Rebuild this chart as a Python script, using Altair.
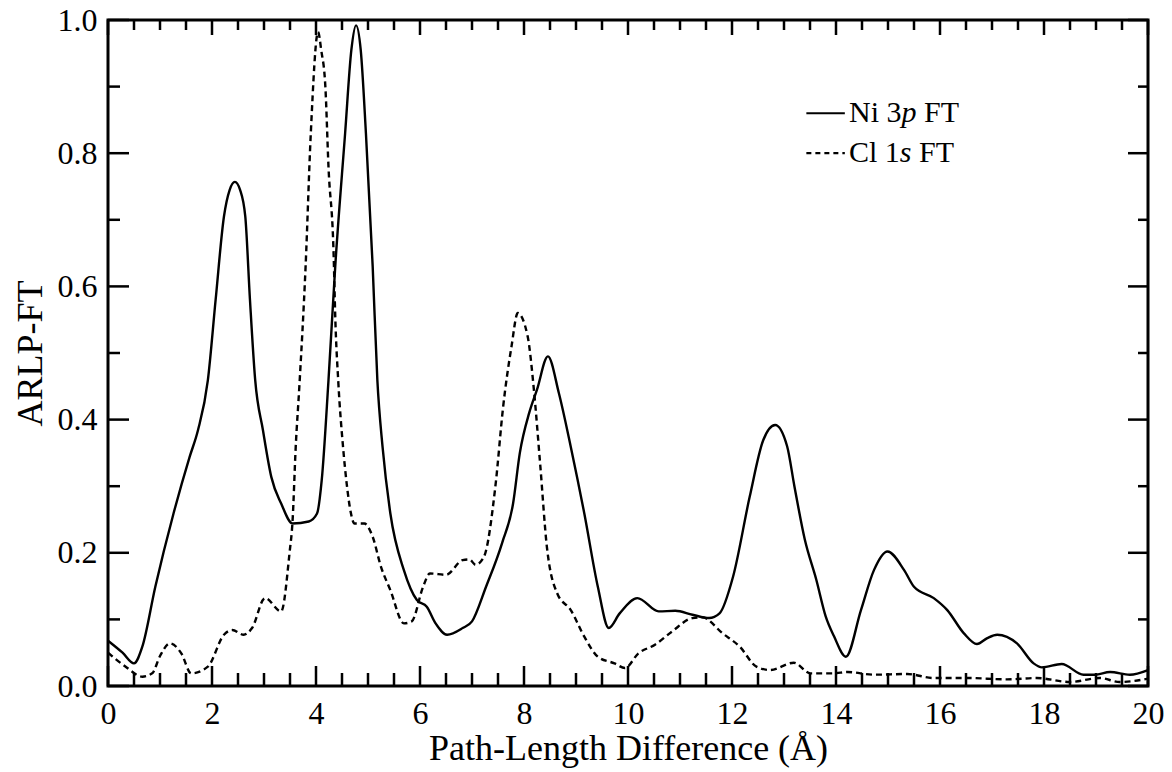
import altair as alt
import pandas as pd

# ---- data ----
ni_x = [0.0, 0.28, 0.5, 0.66, 0.91, 1.26, 1.57, 1.73, 1.92, 2.07, 2.23, 2.34, 2.44, 2.54, 2.64, 2.73,
        2.83, 2.98, 3.14, 3.33, 3.55, 3.86, 4.02, 4.11, 4.24, 4.37, 4.56, 4.68, 4.77, 4.86, 4.96,
        5.09, 5.18, 5.28, 5.43, 5.69, 5.94, 6.13, 6.3, 6.52, 6.82, 7.0, 7.27, 7.58, 7.79, 7.92,
        8.1, 8.25, 8.46, 8.67, 8.9, 9.16, 9.42, 9.63, 9.84, 10.18, 10.59, 10.91, 11.24, 11.56,
        11.76, 12.02, 12.34, 12.6, 12.83, 13.06, 13.2, 13.4, 13.62, 13.8, 13.96, 14.19, 14.48,
        14.73, 14.99, 15.31, 15.5, 15.88, 16.14, 16.46, 16.71, 16.91, 17.1, 17.48, 17.8, 17.96,
        18.34, 18.76, 18.98, 19.27, 19.65, 20.0]
ni_y = [0.068, 0.05, 0.034, 0.059, 0.149, 0.259, 0.344, 0.384, 0.459, 0.58, 0.705, 0.745, 0.757,
        0.745, 0.705, 0.58, 0.46, 0.384, 0.314, 0.274, 0.244, 0.247, 0.259, 0.309, 0.459, 0.63,
        0.83, 0.955, 0.992, 0.955, 0.83, 0.63, 0.459, 0.359, 0.259, 0.174, 0.129, 0.119, 0.094,
        0.077, 0.087, 0.097, 0.149, 0.215, 0.274, 0.35, 0.41, 0.445, 0.495, 0.44, 0.359, 0.259,
        0.149, 0.087, 0.109, 0.132, 0.112, 0.113, 0.107, 0.102, 0.109, 0.164, 0.284, 0.369,
        0.392, 0.36, 0.3, 0.22, 0.16, 0.105, 0.075, 0.044, 0.114, 0.174, 0.202, 0.174, 0.149,
        0.132, 0.114, 0.079, 0.063, 0.072, 0.077, 0.064, 0.034, 0.028, 0.033, 0.017, 0.017,
        0.021, 0.017, 0.024]

cl_x = [0.0, 0.34, 0.66, 0.85, 1.0, 1.19, 1.41, 1.6, 1.92, 2.23, 2.39, 2.61, 2.77, 3.02, 3.33,
        3.49, 3.55, 3.61, 3.68, 3.8, 3.9, 4.04, 4.1, 4.18, 4.24, 4.34, 4.37, 4.43, 4.52, 4.59,
        4.67, 4.74, 4.93, 5.09, 5.25, 5.43, 5.69, 5.84, 6.06, 6.19, 6.5, 6.82, 6.95, 7.07, 7.23,
        7.45, 7.6, 7.76, 7.88, 8.07, 8.19, 8.31, 8.44, 8.64, 8.9, 9.16, 9.42, 9.74, 9.94, 10.2,
        10.52, 10.85, 11.24, 11.43, 11.82, 12.15, 12.47, 12.73, 13.19, 13.51, 13.96, 14.22,
        14.73, 15.37, 15.88, 16.52, 17.29, 17.86, 18.5, 19.07, 19.46, 20.0]
cl_y = [0.05, 0.029, 0.014, 0.019, 0.045, 0.064, 0.049, 0.019, 0.029, 0.077, 0.084, 0.077, 0.087,
        0.132, 0.112, 0.199, 0.249, 0.359, 0.45, 0.63, 0.83, 0.982, 0.955, 0.9, 0.78, 0.645,
        0.555, 0.455, 0.359, 0.304, 0.26, 0.244, 0.244, 0.224, 0.179, 0.144, 0.094, 0.097, 0.149,
        0.169, 0.167, 0.189, 0.19, 0.182, 0.194, 0.3, 0.42, 0.51, 0.56, 0.525, 0.445, 0.334,
        0.209, 0.139, 0.114, 0.074, 0.044, 0.034, 0.027, 0.049, 0.062, 0.082, 0.102, 0.103,
        0.079, 0.059, 0.029, 0.024, 0.035, 0.019, 0.019, 0.021, 0.017, 0.018, 0.012, 0.012,
        0.01, 0.012, 0.006, 0.012, 0.006, 0.011]

x_labels = [0, 2, 4, 6, 8, 10, 12, 14, 16, 18, 20]
y_labels = [0.0, 0.2, 0.4, 0.6, 0.8, 1.0]
x_minor = [0.5, 1, 1.5, 2.5, 3, 3.5, 4.5, 5, 5.5, 6.5, 7, 7.5, 8.5, 9, 9.5, 10.5, 11, 11.5,
           12.5, 13, 13.5, 14.5, 15, 15.5, 16.5, 17, 17.5, 18.5, 19, 19.5]
y_minor = [0.1, 0.3, 0.5, 0.7, 0.9]

legend_names = ["Ni 3", "Cl 1"]
legend_italic = ["p", "s"]
legend_tail = ["FT", "FT"]
legend_rows = [0.86, 0.80]

# ---- layout ----
W, H = 1040, 666
X0, X1, Y0, Y1 = 0, 20, 0, 1
FONT = "Liberation Serif"


def dx(p):
    return p * (X1 - X0) / W


def dy(p):
    return p * (Y1 - Y0) / H


ticks = []
for v in x_labels:
    ticks.append((v, v, Y0, Y0 + dy(20)))
    ticks.append((v, v, Y1, Y1 - dy(15)))
for v in x_minor:
    ticks.append((v, v, Y0, Y0 + dy(13)))
    ticks.append((v, v, Y1, Y1 - dy(10)))
for v in y_labels:
    ticks.append((X0, X0 + dx(21), v, v))
    ticks.append((X1, X1 - dx(20), v, v))
for v in y_minor:
    ticks.append((X0, X0 + dx(12), v, v))
    ticks.append((X1, X1 - dx(10), v, v))
tick_df = pd.DataFrame(ticks, columns=["x", "x2", "y", "y2"])

xscale = alt.Scale(domain=[X0, X1], nice=False, zero=False)
yscale = alt.Scale(domain=[Y0, Y1], nice=False, zero=False)

ni_df = pd.DataFrame({"x": ni_x, "y": ni_y})
cl_df = pd.DataFrame({"x": cl_x, "y": cl_y})

x_axis = alt.Axis(values=x_labels, format="d", labelFont=FONT, labelFontSize=32,
                  labelColor="black", ticks=False, tickSize=0, domain=False, grid=False,
                  labelPadding=12, labelFlush=False, labelOverlap=False,
                  title="Path-Length Difference (Å)", titleFont=FONT, titleFontSize=36,
                  titleFontWeight="normal", titleColor="black", titlePadding=2)
y_axis = alt.Axis(values=y_labels, format=".1f", labelFont=FONT, labelFontSize=32,
                  labelColor="black", ticks=False, tickSize=0, domain=False, grid=False,
                  labelPadding=11, labelFlush=False, labelOverlap=False,
                  title="ARLP-FT", titleFont=FONT, titleFontSize=36,
                  titleFontWeight="normal", titleColor="black", titlePadding=8)


def X(field):
    return alt.X(field, scale=xscale, axis=x_axis, title="Path-Length Difference (Å)")


def Y(field):
    return alt.Y(field, scale=yscale, axis=y_axis, title="ARLP-FT")


ni_line = alt.Chart(ni_df).mark_line(color="black", strokeWidth=2.4, interpolate="monotone").encode(
    x=X("x:Q"), y=Y("y:Q"))
cl_line = alt.Chart(cl_df).mark_line(color="black", strokeWidth=2.4, strokeDash=[6, 4],
                                     interpolate="monotone").encode(
    x=X("x:Q"), y=Y("y:Q"))

tick_layer = alt.Chart(tick_df).mark_rule(color="black", strokeWidth=2.5).encode(
    x=X("x:Q"), x2="x2:Q", y=Y("y:Q"), y2="y2:Q")

# legend
LX0, LX1, LT = 13.43, 14.17, 14.25
leg_df = pd.DataFrame({
    "x": [LX0, LX0], "x2": [LX1, LX1], "y": legend_rows,
    "name": legend_names, "ital": legend_italic, "tail": legend_tail,
    "tx": [LT, LT],
})
leg_solid = alt.Chart(leg_df.iloc[[0]]).mark_rule(color="black", strokeWidth=2.2).encode(
    x=X("x:Q"), x2="x2:Q", y=Y("y:Q"))
leg_dash = alt.Chart(leg_df.iloc[[1]]).mark_rule(color="black", strokeWidth=2.2,
                                                 strokeDash=[5, 4]).encode(
    x=X("x:Q"), x2="x2:Q", y=Y("y:Q"))

LFS = 30
txt_common = dict(font=FONT, fontSize=LFS, color="black", align="left", baseline="middle")
leg_t1 = alt.Chart(leg_df).mark_text(**txt_common).encode(
    x=X("tx:Q"), y=Y("y:Q"), text="name:N")
leg_t2a = alt.Chart(leg_df.iloc[[0]]).mark_text(**txt_common, fontStyle="italic",
                                                dx=1.75 * LFS).encode(
    x=X("tx:Q"), y=Y("y:Q"), text="ital:N")
leg_t2b = alt.Chart(leg_df.iloc[[1]]).mark_text(**txt_common, fontStyle="italic",
                                                dx=1.695 * LFS).encode(
    x=X("tx:Q"), y=Y("y:Q"), text="ital:N")
leg_t3a = alt.Chart(leg_df.iloc[[0]]).mark_text(**txt_common, dx=(1.75 + 0.5 + 0.25) * LFS).encode(
    x=X("tx:Q"), y=Y("y:Q"), text="tail:N")
leg_t3b = alt.Chart(leg_df.iloc[[1]]).mark_text(**txt_common, dx=(1.695 + 0.389 + 0.25) * LFS).encode(
    x=X("tx:Q"), y=Y("y:Q"), text="tail:N")

chart = alt.layer(
    ni_line, cl_line, tick_layer, leg_solid, leg_dash, leg_t1, leg_t2a, leg_t2b, leg_t3a, leg_t3b
).properties(
    width=W, height=H,
    autosize=alt.AutoSizeParams(type="none"),
    padding={"left": 108, "top": 20, "right": 24, "bottom": 86},
    background="white",
).configure_view(stroke="black", strokeWidth=3)

chart.save("out.html", embed_options={"renderer": "svg", "actions": False})
